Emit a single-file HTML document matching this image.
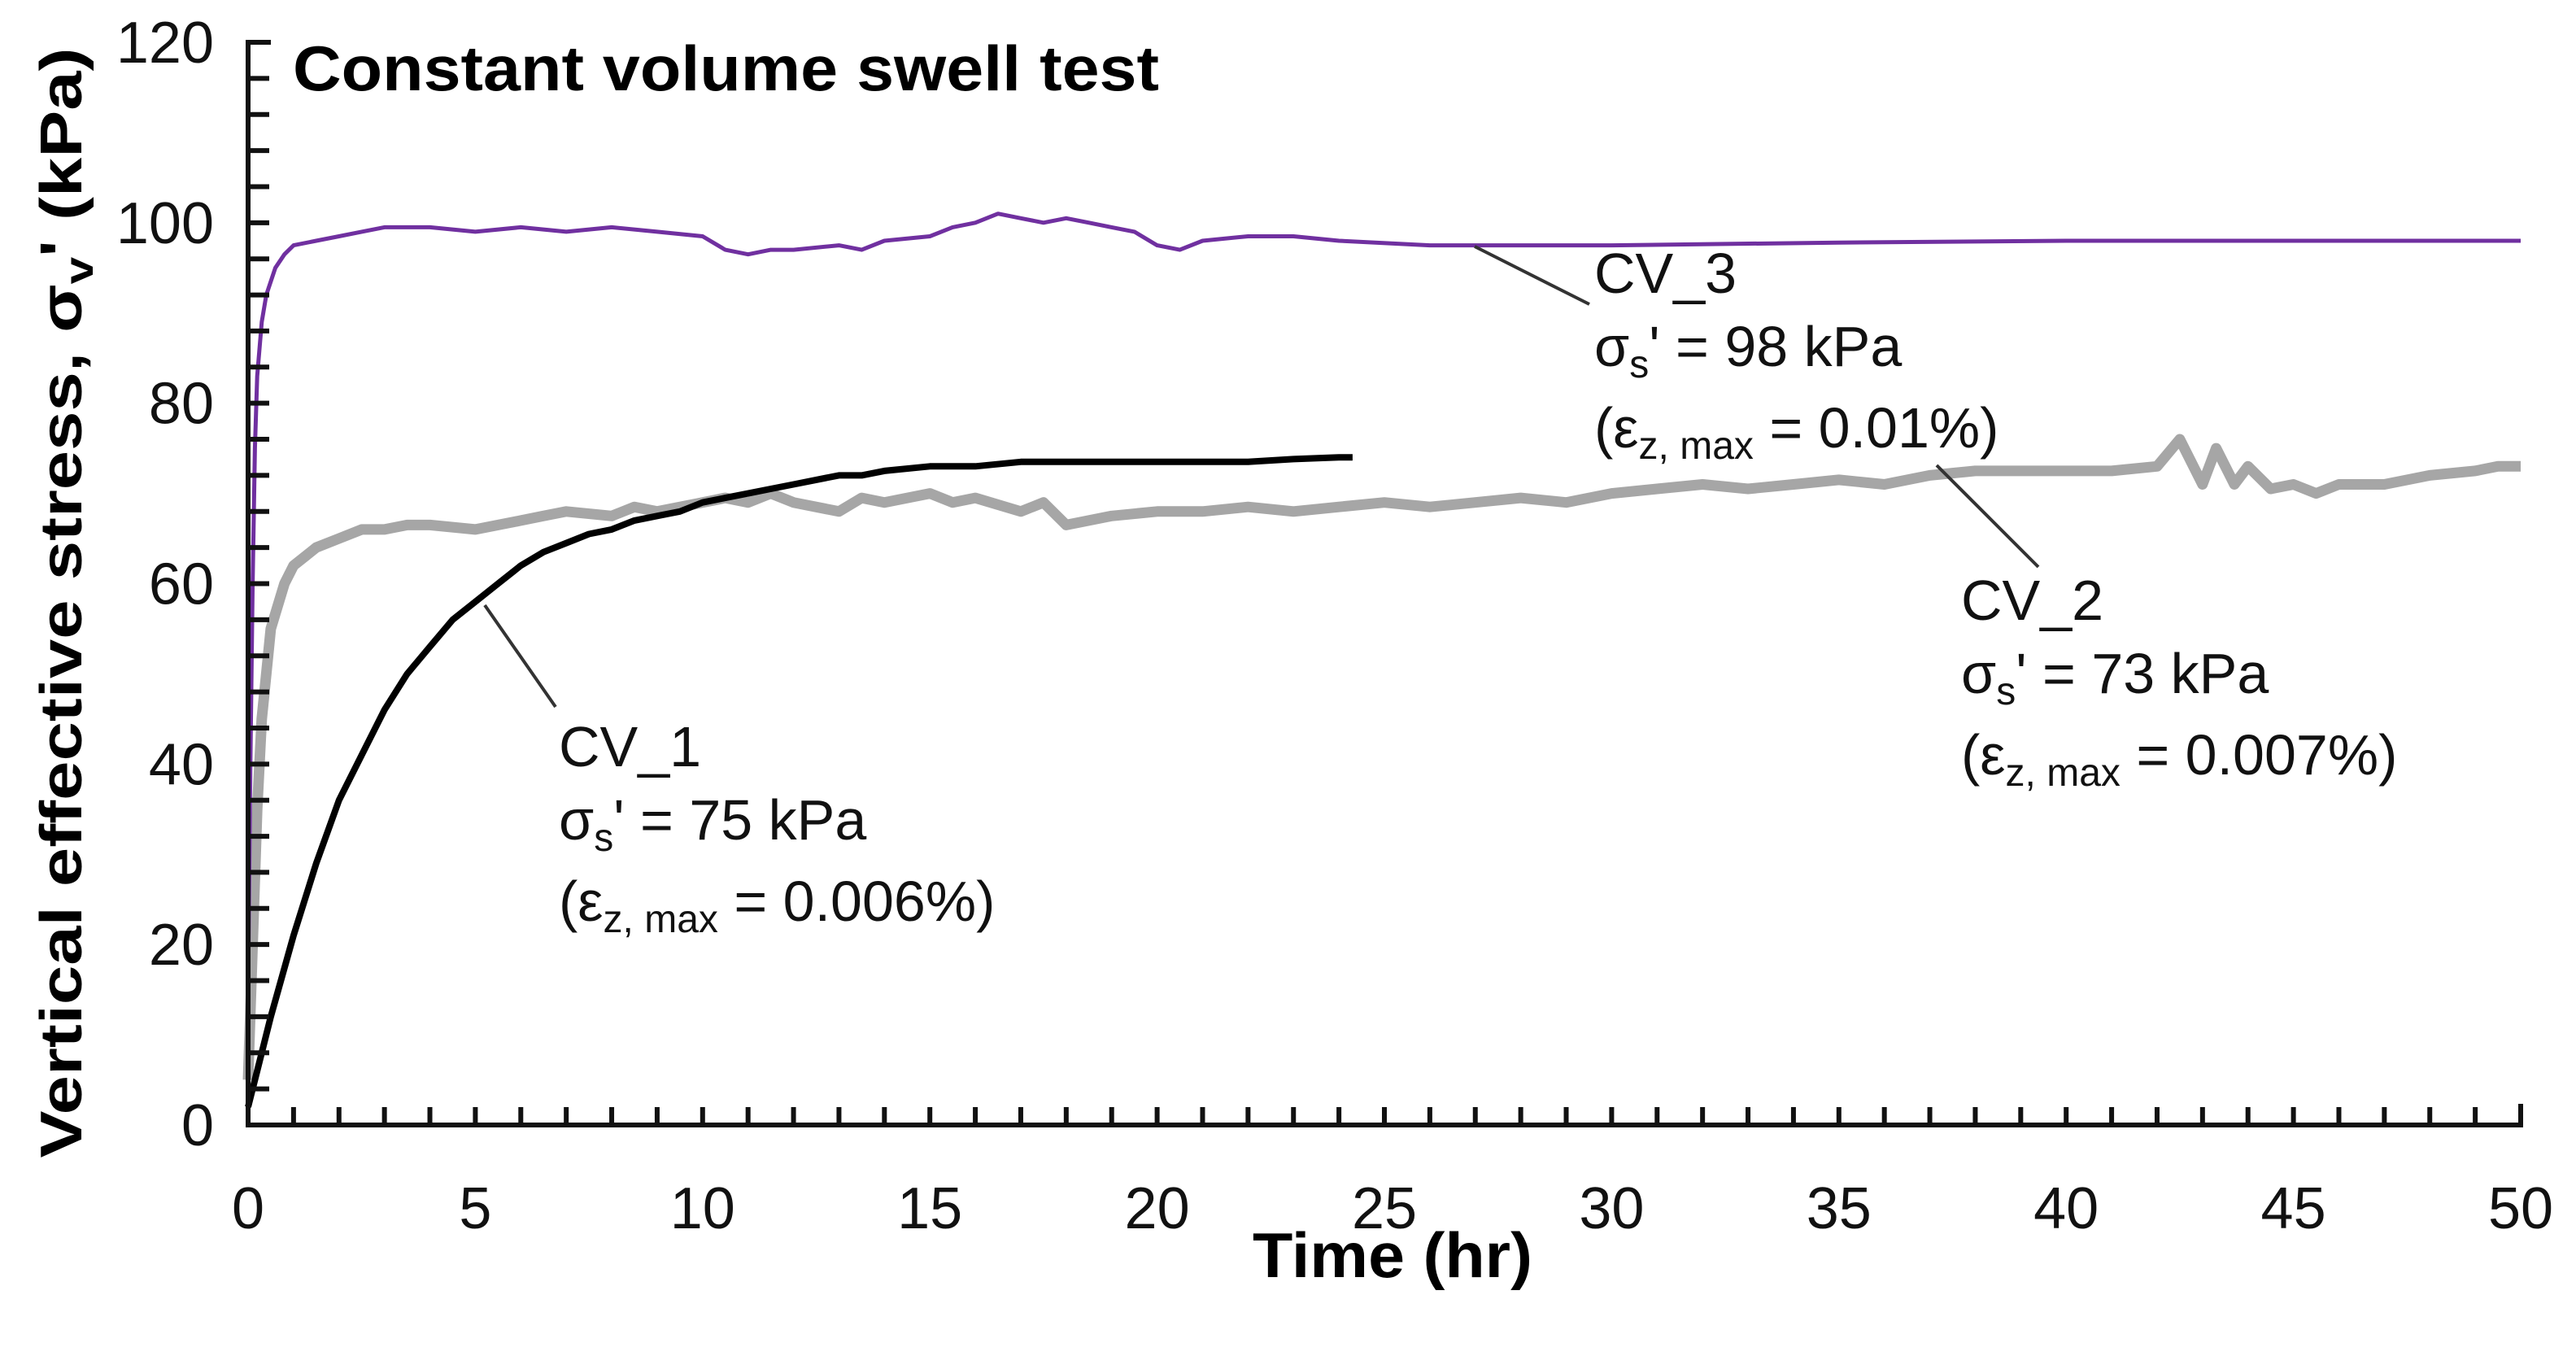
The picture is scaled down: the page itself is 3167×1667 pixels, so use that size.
<!DOCTYPE html>
<html><head><meta charset="utf-8"><style>
html,body{margin:0;padding:0;background:#fff;width:3167px;height:1667px;overflow:hidden}
svg{display:block}
text{font-family:"Liberation Sans",Arial,sans-serif}
</style></head><body>
<svg id="chart" width="3167" height="1667" viewBox="0 0 3167 1667" xmlns="http://www.w3.org/2000/svg">
<g id="series"></g>
<g id="axes"></g>
<text x="360" y="111" font-size="78" font-weight="bold" textLength="1065" lengthAdjust="spacingAndGlyphs">Constant volume swell test</text>
<text transform="translate(100,741) rotate(-90)" text-anchor="middle" font-size="72" font-weight="bold" textLength="1365" lengthAdjust="spacingAndGlyphs">Vertical  effective stress,  σ<tspan font-size="50" dy="14">v</tspan><tspan dy="-14">' (kPa)</tspan></text>
<text x="1712" y="1570" text-anchor="middle" font-size="78" font-weight="bold" textLength="344" lengthAdjust="spacingAndGlyphs">Time (hr)</text>
<g id="annot" font-size="70" fill="#111"></g>
</svg>
<script>
// ---- data ----
const xTicks = [0,5,10,15,20,25,30,35,40,45,50];
const yTicks = [0,20,40,60,80,100,120];
const cv1Time = [0,0.2,0.5,1,1.5,2,2.5,3,3.5,4,4.5,5,5.5,6,6.5,7,7.5,8,8.5,9,9.5,10,10.5,11,11.5,12,12.5,13,13.5,14,15,16,17,18,19,20,21,22,23,24,24.3];
const cv1Val  = [2,6,12,21,29,36,41,46,50,53,56,58,60,62,63.5,64.5,65.5,66,67,67.5,68,69,69.5,70,70.5,71,71.5,72,72,72.5,73,73,73.5,73.5,73.5,73.5,73.5,73.5,73.8,74,74];
const cv2Time = [0,0.1,0.2,0.3,0.5,0.8,1,1.5,2,2.5,3,3.5,4,5,6,6.5,7,8,8.5,9,10,10.5,11,11.5,12,13,13.5,14,15,15.5,16,17,17.5,18,19,20,21,22,23,24,25,26,27,28,29,30,31,32,33,34,35,36,37,38,39,40,41,42,42.5,43,43.3,43.7,44,44.5,45,45.5,46,47,48,49,49.5,50];
const cv2Val  = [5,20,35,45,55,60,62,64,65,66,66,66.5,66.5,66,67,67.5,68,67.5,68.5,68,69,69.5,69,70,69,68,69.5,69,70,69,69.5,68,69,66.5,67.5,68,68,68.5,68,68.5,69,68.5,69,69.5,69,70,70.5,71,70.5,71,71.5,71,72,72.5,72.5,72.5,72.5,73,76,71,75,71,73,70.5,71,70,71,71,72,72.5,73,73];
const cv3Time = [0,0.05,0.1,0.15,0.2,0.3,0.4,0.6,0.8,1,1.5,2,2.5,3,3.5,4,5,6,7,8,9,10,10.5,11,11.5,12,13,13.5,14,15,15.5,16,16.5,17,17.5,18,18.5,19,19.5,20,20.5,21,22,23,24,26,28,30,35,40,45,50];
const cv3Val  = [15,40,60,75,83,89,92,95,96.5,97.5,98,98.5,99,99.5,99.5,99.5,99,99.5,99,99.5,99,98.5,97,96.5,97,97,97.5,97,98,98.5,99.5,100,101,100.5,100,100.5,100,99.5,99,97.5,97,98,98.5,98.5,98,97.5,97.5,97.5,97.8,98,98,98];
// ---- scales ----
const X0=305, X1=3099, Y0=1383, Y1=52;
const sx = t => X0 + (t/50)*(X1-X0);
const sy = v => Y0 - (v/120)*(Y0-Y1);
const NS="http://www.w3.org/2000/svg";
const axes=document.getElementById('axes'), series=document.getElementById('series'), annot=document.getElementById('annot');
function mk(tag,attrs,parent){const e=document.createElementNS(NS,tag);for(const k in attrs)e.setAttribute(k,attrs[k]);parent.appendChild(e);return e;}
let e=mk('path',{d:`M${X0+28},${Y1} H${X0} V${Y0} H${X1} V${Y0-26}`,fill:'none',stroke:'#111','stroke-width':6},axes);


let d='';
for(let t=1;t<50;t++){d+=`M${sx(t)},${Y0} v-22 `;}
for(let v=4;v<120;v+=4){d+=`M${X0},${sy(v)} h26 `;}
e=mk('path',{d:d,stroke:'#111','stroke-width':6,fill:'none'},axes);


xTicks.forEach(t=>{const el=mk('text',{x:sx(t),y:1510,'text-anchor':'middle','font-size':72,fill:'#111'},axes);el.textContent=t;

});
yTicks.forEach(v=>{const el=mk('text',{x:263,y:sy(v)+25,'text-anchor':'end','font-size':72,fill:'#111'},axes);el.textContent=v;

});
function line(ts,vs,color,w,name){const p=ts.map((t,i)=>`${i?'L':'M'}${sx(t).toFixed(1)},${sy(vs[i]).toFixed(1)}`).join(' ');
const el=mk('path',{d:p,fill:'none',stroke:color,'stroke-width':w,'stroke-linejoin':'round'},series);

}
line(cv2Time,cv2Val,'#a6a6a6',13,'cv2-line');
line(cv1Time,cv1Val,'#000',8,'cv1-line');
line(cv3Time,cv3Val,'#7030a0',5,'cv3-line');
function label(x,y,id,s,eps,lx1,ly1,lx2,ly2,name){
 const g=mk('g',{},annot);
 
 
 mk('line',{x1:lx1,y1:ly1,x2:lx2,y2:ly2,stroke:'#333','stroke-width':4},g);
 let t=mk('text',{x:x,y:y},g);t.textContent=id;
 t=mk('text',{x:x,y:y+90},g);t.innerHTML=`σ<tspan font-size="48" dy="14">s</tspan><tspan dy="-14">' = ${s} kPa</tspan>`;
 t=mk('text',{x:x,y:y+190},g);t.innerHTML=`(ε<tspan font-size="48" dy="14">z, max</tspan><tspan dy="-14"> = ${eps}%)</tspan>`;
}
label(1960,360,'CV_3','98','0.01',1813,303,1954,374,'cv3-annotation');
label(2411,762,'CV_2','73','0.007',2381,572,2506,697,'cv2-annotation');
label(687,942,'CV_1','75','0.006',596,744,683,869,'cv1-annotation');
</script>
</body></html>
